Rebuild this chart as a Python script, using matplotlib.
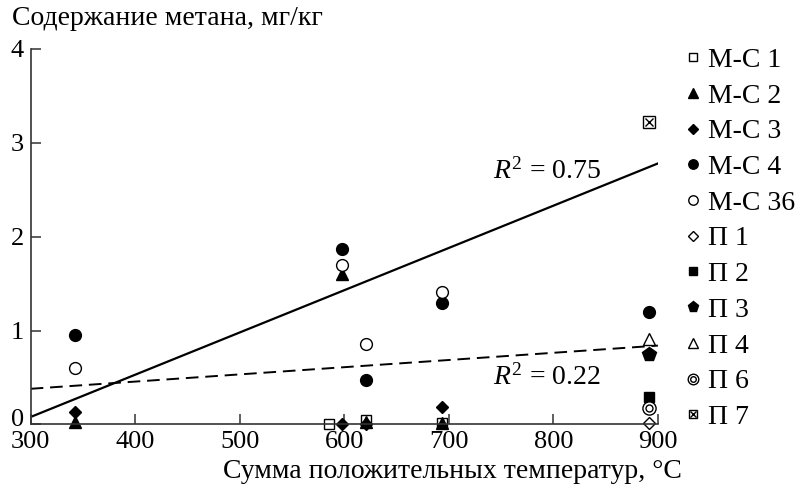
import numpy as np
import matplotlib as mpl
mpl.use('Agg')
from matplotlib import pyplot as plt
from matplotlib.transforms import ScaledTranslation

plt.rcParams['font.family'] = ['Liberation Serif', 'DejaVu Serif']
plt.rcParams['mathtext.fontset'] = 'custom'
plt.rcParams['mathtext.rm'] = 'Liberation Serif'
plt.rcParams['mathtext.it'] = 'Liberation Serif:italic'

# Data: (sum of positive temperatures, methane mg/kg)
ms1_x = [585, 621, 693]
ms1_y = [0.0, 0.05, 0.02]
ms2_x = [342, 598, 621, 693]
ms2_y = [0.03, 1.60, 0.03, 0.02]
ms3_x = [342, 598, 621, 693]
ms3_y = [0.13, 0.0, 0.0, 0.19]
ms4_x = [342, 598, 621, 693, 891]
ms4_y = [0.95, 1.87, 0.47, 1.29, 1.20]
ms36_x = [342, 598, 621, 693]
ms36_y = [0.60, 1.70, 0.86, 1.41]
p1_x, p1_y = [891], [0.02]
p2_x, p2_y = [891], [0.29]
p3_x, p3_y = [891], [0.75]
p4_x, p4_y = [891], [0.91]
p6_x, p6_y = [891], [0.18]
p7_x, p7_y = [891], [3.22]

# trend lines (end points)
trend_x = [300, 900]
trend_all = [0.08, 2.78]
trend_dash = [0.38, 0.84]

fig = plt.figure(figsize=(7.97, 4.84), dpi=100)
ax = fig.add_axes([0.0385, 0.123, 0.787, 0.776])

fs = 20
k = 'black'

ax.plot(trend_x, trend_all, color=k, lw=1.6, zorder=1)
ax.plot(trend_x, trend_dash, color=k, lw=1.4, ls=(0, (6.5, 3.5)), zorder=1)

opts = dict(ls='none', clip_on=False)
h = []
h.append(ax.plot(ms1_x, ms1_y, 's', ms=7, mfc='white', mec=k, mew=1.0, **opts)[0])
h.append(ax.plot(ms2_x, ms2_y, '^', ms=8.5, color=k, **opts)[0])
h.append(ax.plot(ms3_x, ms3_y, 'D', ms=6.5, color=k, **opts)[0])
h.append(ax.plot(ms4_x, ms4_y, 'o', ms=8.5, color=k, **opts)[0])
h.append(ax.plot(ms36_x, ms36_y, 'o', ms=8.5, mfc='white', mec=k, mew=1.0, **opts)[0])
h.append(ax.plot(p1_x, p1_y, 'D', ms=6.5, mfc='white', mec=k, mew=1.0, **opts)[0])
h.append(ax.plot(p2_x, p2_y, 's', ms=7.5, color=k, **opts)[0])
h.append(ax.plot(p3_x, p3_y, 'p', ms=10, color=k, **opts)[0])
h.append(ax.plot(p4_x, p4_y, '^', ms=8.5, mfc='white', mec=k, mew=1.0, **opts)[0])
a = ax.plot(p6_x, p6_y, 'o', ms=9.5, mfc='white', mec=k, mew=1.0, **opts)[0]
b = ax.plot(p6_x, p6_y, 'o', ms=5, mfc='white', mec=k, mew=1.0, **opts)[0]
h.append((a, b))
a = ax.plot(p7_x, p7_y, 's', ms=8, mfc='white', mec=k, mew=1.0, **opts)[0]
b = ax.plot(p7_x, p7_y, 'x', ms=6, color=k, mew=1.0, **opts)[0]
h.append((a, b))

labels = ['М-С 1', 'М-С 2', 'М-С 3', 'М-С 4', 'М-С 36',
          'П 1', 'П 2', 'П 3', 'П 4', 'П 6', 'П 7']

ax.text(742, 2.70, r'$R^{2}$ = 0.75', fontsize=fs, va='center', ha='left')
ax.text(742, 0.50, r'$R^{2}$ = 0.22', fontsize=fs, va='center', ha='left')

ax.set_xlim(300, 900)
ax.set_ylim(0, 4)
ax.set_xticks([300, 400, 500, 600, 700, 800, 900])
ax.set_yticks([0, 1, 2, 3, 4])
for s in ['top', 'right']:
    ax.spines[s].set_visible(False)
for s in ['left', 'bottom']:
    ax.spines[s].set_color('#333333')
    ax.spines[s].set_linewidth(1.2)
ax.tick_params(direction='in', length=7, width=1.1, labelsize=19, colors='#333333', labelcolor='black')
ax.tick_params(axis='x', pad=5)
ax.tick_params(axis='y', pad=5)

# the "0" sits a little higher so it clears the "300"
lab0 = ax.get_yticklabels()[0]
lab0.set_transform(lab0.get_transform() + ScaledTranslation(0, 5 / 72, fig.dpi_scale_trans))

fig.text(0.015, 0.962, 'Содержание метана, мг/кг', fontsize=fs, va='center', ha='left')
fig.text(0.856, 0.0, 'Сумма положительных температур, °C', fontsize=fs, va='bottom', ha='right')

leg = fig.legend(h, labels, loc='upper left', bbox_to_anchor=(0.855, 0.902), frameon=False,
                 fontsize=fs, labelspacing=0.37, handlelength=0.8, handletextpad=0.15,
                 borderaxespad=0, borderpad=0, markerscale=0.8)

fig.savefig('out.png', dpi=100)
